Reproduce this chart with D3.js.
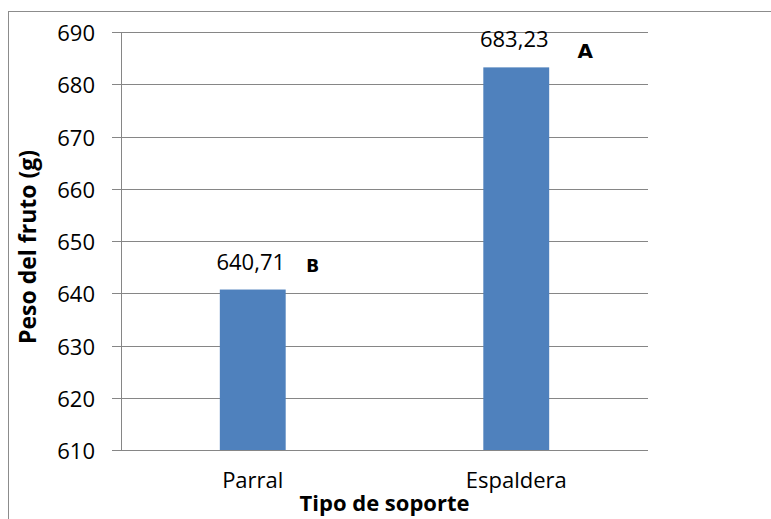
<!DOCTYPE html>
<html lang="es">
<head>
<meta charset="utf-8">
<script src="https://d3js.org/d3.v7.min.js"></script>
<style>
  body { margin: 0; background: #fff; }
  svg text { font-family: "Open Sans", "Noto Sans", sans-serif; fill: #000; }
</style>
</head>
<body>
<div id="chart"></div>
<script>
// data
const categories = ["Parral", "Espaldera"];
const values = [640.71, 683.23];
const valueLabels = ["640,71", "683,23"];
const letters = ["B", "A"];
const yTicks = [610, 620, 630, 640, 650, 660, 670, 680, 690];

const W = 771, H = 519;
const plot = { left: 121, right: 648, top: 32, bottom: 450 };

const svg = d3.select("#chart").append("svg")
  .attr("width", W).attr("height", H);

// outer frame (runs off right and bottom edges)
svg.append("rect")
  .attr("x", 8.5).attr("y", 11.5)
  .attr("width", W + 20).attr("height", H + 20)
  .attr("fill", "none").attr("stroke", "#8c8c8c").attr("stroke-width", 1);

const x = d3.scaleBand().domain(categories)
  .range([plot.left, plot.right]).paddingInner(0.75).paddingOuter(0.375);
const y = d3.scaleLinear().domain([610, 690]).range([plot.bottom, plot.top]);

// gridlines
svg.append("g").selectAll("line")
  .data(yTicks).join("line")
  .attr("x1", plot.left - 9).attr("x2", plot.right)
  .attr("y1", d => Math.round(y(d)) + 0.5).attr("y2", d => Math.round(y(d)) + 0.5)
  .attr("stroke", "#868686").attr("stroke-width", 1);

// y axis line
svg.append("line")
  .attr("x1", plot.left + 0.5).attr("x2", plot.left + 0.5)
  .attr("y1", plot.top).attr("y2", plot.bottom)
  .attr("stroke", "#868686");

// y tick labels
svg.append("g").selectAll("text")
  .data(yTicks).join("text")
  .attr("x", 95).attr("y", d => y(d) + 9)
  .attr("text-anchor", "end")
  .style("font-size", "22px")
  .text(d => d);

// bars
svg.append("g").selectAll("rect")
  .data(values).join("rect")
  .attr("x", (d, i) => x(categories[i]))
  .attr("y", d => y(d))
  .attr("width", x.bandwidth())
  .attr("height", d => y(610) - y(d))
  .attr("fill", "#4f81bd");

// value labels
svg.append("g").selectAll("text")
  .data(values).join("text")
  .attr("x", (d, i) => x(categories[i]) + x.bandwidth() / 2 - 2)
  .attr("y", d => y(d) - 20)
  .attr("text-anchor", "middle")
  .style("font-size", "22px")
  .text((d, i) => valueLabels[i]);

// significance letters
const letterDx = [60, 69];
const letterDy = [18, 9];
svg.append("g").selectAll("text")
  .data(values).join("text")
  .attr("x", (d, i) => x(categories[i]) + x.bandwidth() / 2 + letterDx[i])
  .attr("y", (d, i) => y(d) - letterDy[i])
  .attr("text-anchor", "middle")
  .style("font-family", "'DejaVu Sans', sans-serif")
  .style("font-weight", "bold")
  .style("font-size", (d, i) => i === 0 ? "17px" : "20px")
  .text((d, i) => letters[i]);

// x tick labels
svg.append("g").selectAll("text")
  .data(categories).join("text")
  .attr("x", d => x(d) + x.bandwidth() / 2)
  .attr("y", plot.bottom + 38)
  .attr("text-anchor", "middle")
  .style("font-size", "22px")
  .text(d => d);

// axis titles
svg.append("text")
  .attr("x", (plot.left + plot.right) / 2)
  .attr("y", 511)
  .attr("text-anchor", "middle")
  .style("font-size", "22px").style("font-weight", "bold")
  .text("Tipo de soporte");

svg.append("text")
  .attr("transform", `translate(36,${(plot.top + plot.bottom) / 2 + 6}) rotate(-90)`)
  .attr("text-anchor", "middle")
  .style("font-size", "23px").style("font-weight", "bold")
  .text("Peso del fruto (g)");
</script>
</body>
</html>
